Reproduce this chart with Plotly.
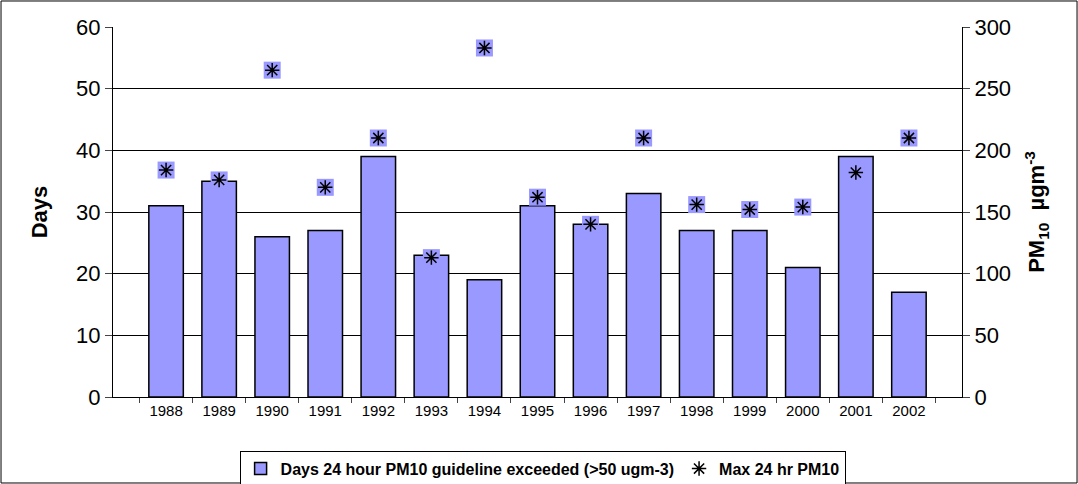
import plotly.graph_objects as go

years = ["1988", "1989", "1990", "1991", "1992", "1993", "1994", "1995",
         "1996", "1997", "1998", "1999", "2000", "2001", "2002"]
days_exceeded = [31, 35, 26, 27, 39, 23, 19, 31, 28, 33, 27, 27, 21, 39, 17]
max_pm10 = [184, 176, 265, 170, 210, 113, 283, 162, 140, 210, 156, 152, 154, 182, 210]

fill = "#9999FF"

fig = go.Figure()
fig.add_trace(go.Bar(x=years, y=days_exceeded, name="Days 24 hour PM10 guideline exceeded (>50 ugm-3)",
                     marker=dict(color=fill, line=dict(color="black", width=1.5))))
# square backing for the asterisk markers
fig.add_trace(go.Scatter(x=years, y=max_pm10, yaxis="y2", mode="markers", showlegend=False,
                         marker=dict(symbol="square", size=17, color=fill, line=dict(width=0))))
fig.add_trace(go.Scatter(x=years, y=max_pm10, yaxis="y2", mode="markers", name="Max 24 hr PM10",
                         marker=dict(symbol="asterisk-open", size=12, color="black",
                                     line=dict(color="black", width=1.5))))

fig.update_layout(
    width=1078, height=484,
    margin=dict(l=113, r=116, t=27, b=87, autoexpand=False),
    paper_bgcolor="white", plot_bgcolor="white",
    font=dict(family="Liberation Sans, Arial", color="black"),
    bargap=0.35,
    showlegend=True,
    legend=dict(orientation="h", x=0.506, xanchor="center", y=-0.145, yanchor="top",
                bordercolor="black", borderwidth=1, itemwidth=30, tracegroupgap=0,
                font=dict(size=16, family="Liberation Sans, Arial", weight="bold")),
    xaxis=dict(tickfont=dict(size=15), ticks="outside", ticklen=5, tickson="boundaries",
               showline=True, linecolor="black", linewidth=1, showgrid=False),
    yaxis=dict(range=[0, 60], dtick=10, tickfont=dict(size=22), ticks="outside", ticklen=7,
               showline=True, linecolor="black", gridcolor="black", gridwidth=1,
               zeroline=False,
               title=dict(text="<b>Days</b>", font=dict(size=22), standoff=22)),
    yaxis2=dict(range=[0, 300], dtick=50, overlaying="y", side="right", tickfont=dict(size=22),
                ticks="outside", ticklen=7, showline=True, linecolor="black", showgrid=False,
                zeroline=False,
                title=dict(text="<b>PM<sub>10</sub>  µgm<sup>-3</sup></b>", font=dict(size=22), standoff=18)),
)

# outer chart border
fig.add_shape(type="rect", xref="paper", yref="paper",
              x0=-0.1319, x1=1.1355, y0=-0.2324, y1=1.0703,
              line=dict(color="black", width=1))

# drop the page's default body margin so the chart sits at the window's corner
fig.write_html("out.html", config={"displayModeBar": False},
               post_script="document.body.style.margin='0';")
